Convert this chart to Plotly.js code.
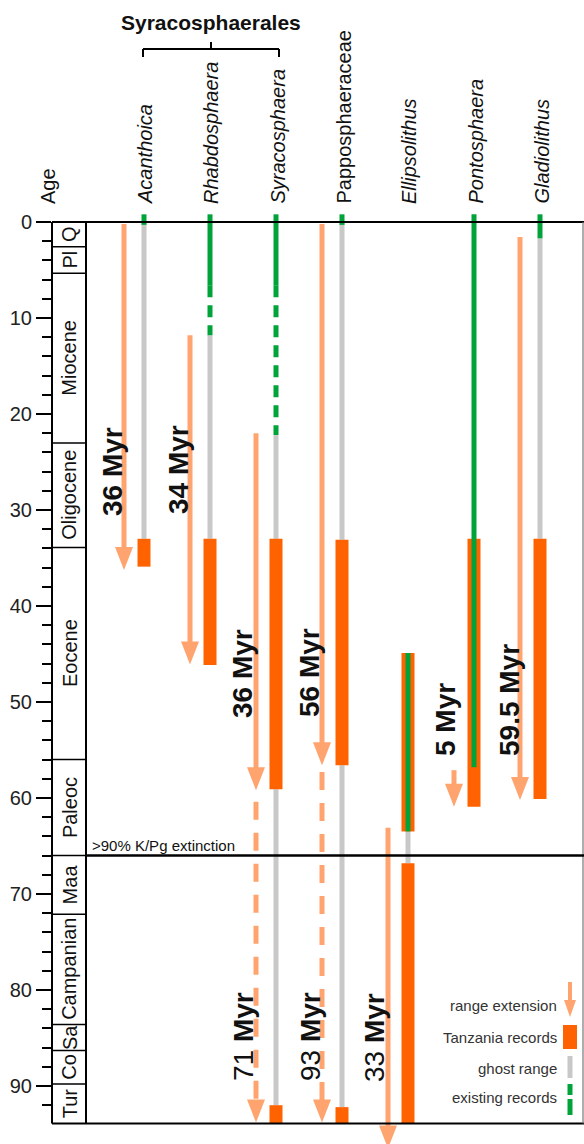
<!DOCTYPE html>
<html><head><meta charset="utf-8">
<script src="https://cdn.plot.ly/plotly-3.0.1.min.js"></script>
<style>html,body{margin:0;padding:0;background:#fff}</style>
</head><body><div id="chart" style="width:584px;height:1144px"></div>
<script>
// ---------------- data (ages in Ma) ----------------
const taxa = ['Acanthoica','Rhabdosphaera','Syracosphaera','Papposphaeraceae','Ellipsolithus','Pontosphaera','Gladiolithus'];
const taxaItalic = [true, true, true, false, true, true, true];
// Tanzania records: [taxon index, top, base]
const tanzaniaRecords = [[0,33.0,35.9],[1,33.0,46.15],[2,33.0,59.1],[2,92.0,93.9],[3,33.1,56.6],[3,92.2,93.9],[4,44.9,63.5],[4,66.8,93.9],[5,33.0,60.9],[6,33.0,60.1]];
// ghost ranges: [taxon index, top, base]
const ghostRanges = [[0,0,33.0],[1,11.8,33.0],[2,22.2,33.0],[2,59.1,92.0],[3,0,33.1],[3,56.6,92.2],[4,63.5,66.8],[6,1.7,33.0]];
// existing records
const existingSolid = [[0,-0.8,0.3],[1,-0.8,6.6],[2,-0.8,6.6],[3,-0.8,0.3],[4,44.9,63.5],[5,-0.8,56.8],[6,-0.8,1.7]];
const existingDashed = [[1,6.6,11.8],[2,6.6,22.2]];
// range extensions: [taxon index, start, arrow tip]
const extensionSolid = [[0,0.2,36.25],[1,11.8,46.1],[2,22.0,59.2],[3,0.2,56.6],[4,63.1,96.5],[5,57.1,60.9],[6,1.55,60.2]];
const extensionDashed = [[2,60.4,93.8],[3,57.3,93.8]];
const extensionLabels = ['36 Myr','34 Myr','36 Myr','56 Myr','33 <b>Myr</b>','5 Myr','59.5 Myr'];
const extensionLabelBold = [true,true,true,true,false,true,true];
const extensionDashedLabels = ['71 <b>Myr</b>','93 <b>Myr</b>'];
// geological time scale
const stageNames = ['Q','Pl','Miocene','Oligocene','Eocene','Paleoc','Maa','Campanian','Sa','Co','Tur'];
const stageBase = [2.58,5.33,23.03,33.9,56.0,66.0,72.1,83.6,86.3,89.8,93.9];
const majorTicks = [0,10,20,30,40,50,60,70,80,90];
const minorTicks = [2,4,6,8,12,14,16,18,22,24,26,28,32,34,36,38,42,44,46,48,52,54,56,58,62,64,66,68,72,74,76,78,82,84,86,88,92];
const kpgAge = 66.0;
const legendItems = ['range extension','Tanzania records','ghost range','existing records'];

// ---------------- layout helpers ----------------
const PXM = 9.6;                 // pixels per Myr
const Y0 = 222;                  // pixel of 0 Ma
const Y = py => (py - Y0) / PXM; // pixel -> age
const colX = i => 144 + 66 * i;  // column centre (x axis in px units)
const EXT_OFF = -20;
const C_BAR = '#FF6200', C_EXT = '#FFA46E', C_GHOST = '#C8C8C8', C_GREEN = '#00A339';
const FONT = 'Liberation Sans, Arial, sans-serif';
const bottomAge = stageBase[stageBase.length - 1];

function segTrace(segs, xoff, color, width, dash) {
  const x = [], y = [];
  segs.forEach(s => { x.push(colX(s[0]) + xoff, colX(s[0]) + xoff, null); y.push(s[1], s[2], null); });
  return {type:'scatter', mode:'lines', x, y, hoverinfo:'skip', showlegend:false,
          line:{color, width, dash: dash || 'solid'}};
}
const HEAD_L = 23 / PXM, HEAD_W = 9;
function arrowShaft(segs) { return segs.map(s => [s[0], s[1], s[2] - HEAD_L + 0.2]); }
function arrowHeads(segs) {
  const x = [], y = [];
  segs.forEach(s => {
    const cx = colX(s[0]) + EXT_OFF;
    x.push(cx - HEAD_W, cx + HEAD_W, cx, cx - HEAD_W, null);
    y.push(s[2] - HEAD_L, s[2] - HEAD_L, s[2], s[2] - HEAD_L, null);
  });
  return {type:'scatter', mode:'lines', x, y, fill:'toself', fillcolor:C_EXT,
          line:{width:0, color:C_EXT}, hoverinfo:'skip', showlegend:false};
}

const traces = [
  segTrace(ghostRanges, 0, C_GHOST, 5),
  segTrace(arrowShaft(extensionSolid), EXT_OFF, C_EXT, 5),
  segTrace(arrowShaft(extensionDashed), EXT_OFF, C_EXT, 5, '18px,13px'),
  arrowHeads(extensionSolid.concat(extensionDashed)),
  segTrace(tanzaniaRecords, 0, C_BAR, 13),
  segTrace(existingSolid, 0, C_GREEN, 5),
  segTrace(existingDashed, 0, C_GREEN, 5, '12px,8px')
];

// ---------------- shapes ----------------
const shapes = [];
const L = (x0, y0, x1, y1, w, c, xref) => shapes.push({type:'line', xref: xref || 'x', yref:'y',
  x0, y0, x1, y1, line:{color: c || '#000', width: w}, layer:'above'});
L(0, 0, 1, 0, 2, '#000', 'paper');                    // top line
L(0, 0, 0, bottomAge, 2, '#000', 'paper');            // age axis
L(86, 0, 86, bottomAge, 2);                           // stage column
L(0, bottomAge, 1, bottomAge, 2, '#000', 'paper');    // bottom
L(583, 0, 583, bottomAge, 1.2, '#777');               // right frame
L(86, kpgAge, 584, kpgAge, 2.5);                      // K/Pg
stageBase.slice(0, -1).forEach(a => L(0, a, 86, a, 1.5, '#000', 'paper'));
// fix: stage lines from axis (paper 0) to x=86 -> draw with x ref
shapes.splice(shapes.length - (stageBase.length - 1));
stageBase.slice(0, -1).forEach(a => L(52.5, a, 86, a, 1.5));
// Syracosphaerales bracket
const bY = Y(49), bYe = Y(57), bYt = Y(42);
L(colX(0) - 1, bY, colX(2) + 3, bY, 2);
L(colX(0) - 1, bY, colX(0) - 1, bYe, 2);
L(colX(2) + 3, bY, colX(2) + 3, bYe, 2);
L((colX(0) + colX(2)) / 2 + 1, bY, (colX(0) + colX(2)) / 2 + 1, bYt, 2);

// legend glyphs
shapes.push({type:'line', xref:'x', yref:'y', x0:570, x1:570, y0:Y(982), y1:Y(1002), line:{color:C_EXT, width:4}});
shapes.push({type:'path', xref:'x', yref:'y', path:`M564,${Y(1000)} L576,${Y(1000)} L570,${Y(1017)} Z`, fillcolor:C_EXT, line:{width:0}});
shapes.push({type:'rect', xref:'x', yref:'y', x0:563, x1:577, y0:Y(1025), y1:Y(1049), fillcolor:C_BAR, line:{width:0}});
shapes.push({type:'line', xref:'x', yref:'y', x0:570, x1:570, y0:Y(1056), y1:Y(1078), line:{color:C_GHOST, width:5}});
shapes.push({type:'line', xref:'x', yref:'y', x0:570, x1:570, y0:Y(1084), y1:Y(1095), line:{color:C_GREEN, width:5}});
shapes.push({type:'line', xref:'x', yref:'y', x0:570, x1:570, y0:Y(1099), y1:Y(1115), line:{color:C_GREEN, width:5}});

// ---------------- annotations ----------------
const ann = [];
const A = o => ann.push(Object.assign({showarrow:false, xref:'x', yref:'y', font:{family:FONT, size:20, color:'#111'}}, o));
// taxon headers
taxa.forEach((t, i) => A({text: taxaItalic[i] ? '<i>' + t + '</i>' : t, x: colX(i) + 1, y: Y(206),
  textangle:-90, xanchor:'center', yanchor:'bottom'}));
A({text:'<b>Syracosphaerales</b>', x:211, y:Y(22), xanchor:'center', yanchor:'middle', font:{family:FONT, size:21, color:'#111'}});
A({text:'Age', xref:'paper', x:(48 - 52) / 532, y:Y(206), textangle:-90, xanchor:'center', yanchor:'bottom'});
// stage names
stageNames.forEach((s, i) => {
  const top = i === 0 ? 0 : stageBase[i - 1];
  A({text:s, x:69.5, y:(top + stageBase[i]) / 2, textangle:-90, xanchor:'center', yanchor:'middle'});
});
A({text:'>90% K/Pg extinction', x:90, y:Y(845), xanchor:'left', yanchor:'middle', font:{family:FONT, size:15, color:'#111'}});
// extension labels
const extLabelPos = [[112,472],[178,470],[242,674],[309,673],[374,1038],[445,720],[509,700]];
extensionLabels.forEach((t, i) => A({text: extensionLabelBold[i] ? '<b>' + t + '</b>' : t,
  x: extLabelPos[i][0], y: Y(extLabelPos[i][1]), textangle:-90, xanchor:'center', yanchor:'middle',
  font:{family:FONT, size:28, color:'#111'}}));
const extDashLabelPos = [[243,1037],[310,1037]];
extensionDashedLabels.forEach((t, i) => A({text:t, x: extDashLabelPos[i][0], y: Y(extDashLabelPos[i][1]),
  textangle:-90, xanchor:'center', yanchor:'middle', font:{family:FONT, size:28, color:'#111'}}));
// legend text
const legendY = [1005, 1037, 1068, 1097];
legendItems.forEach((t, i) => A({text:t, x:559, y:Y(legendY[i]), xanchor:'right', yanchor:'middle',
  font:{family:FONT, size:15, color:'#333'}}));

const layout = {
  width:584, height:1144, margin:{l:52, r:0, t:0, b:0},
  paper_bgcolor:'#fff', plot_bgcolor:'#fff', showlegend:false,
  xaxis:{range:[52, 584], visible:false, fixedrange:true},
  yaxis:{range:[Y(1144), Y(0)], showgrid:false, zeroline:false, showline:false,
    tickmode:'array', tickvals:majorTicks, ticks:'outside', ticklen:15, tickwidth:2, tickcolor:'#000',
    tickfont:{family:FONT, size:20, color:'#222'},
    minor:{tickmode:'array', tickvals:minorTicks, ticks:'outside', ticklen:9, tickwidth:2, tickcolor:'#000', showgrid:false}},
  shapes, annotations: ann
};
Plotly.newPlot('chart', traces, layout, {staticPlot:true, displayModeBar:false});
</script></body></html>
